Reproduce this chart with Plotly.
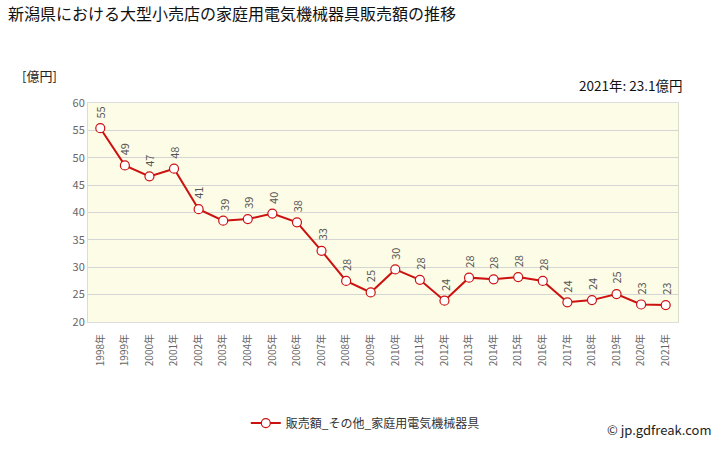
import plotly.graph_objects as go

years = [str(y) + "年" for y in range(1998, 2022)]
values = [55.4, 48.6, 46.6, 48.0, 40.6, 38.5, 38.8, 39.8, 38.2, 33.0, 27.5, 25.4,
          29.6, 27.7, 23.9, 28.1, 27.8, 28.2, 27.5, 23.6, 24.0, 25.1, 23.2, 23.1]
labels = [str(int(v + 0.5)) for v in values]
series_name = "販売額_その他_家庭用電気機械器具"
title = "新潟県における大型小売店の家庭用電気機械器具販売額の推移"
unit = "[億円]"
latest = "2021年: 23.1億円"

RED = "#CC1111"
FONT = "Noto Sans CJK JP"

fig = go.Figure()
fig.add_trace(go.Scatter(
    x=years, y=values, mode="lines+markers", name=series_name,
    line=dict(color=RED, width=2),
    marker=dict(size=9, color="white", line=dict(color=RED, width=1.2)),
))

annotations = []
for x, v, t in zip(years, values, labels):
    annotations.append(dict(
        x=x, y=v, xref="x", yref="y", text=t, showarrow=False,
        textangle=-90, yanchor="bottom", xanchor="center", yshift=8,
        font=dict(family=FONT, size=11, color="#555555"),
    ))
annotations += [
    dict(text=title, xref="paper", yref="paper", x=-82 / 590, y=1 + 91 / 221,
         xanchor="left", yanchor="middle", showarrow=False,
         font=dict(family=FONT, size=16, color="#111111")),
    dict(text=unit, xref="paper", yref="paper", x=-68 / 590, y=1 + 28 / 221,
         xanchor="left", yanchor="middle", showarrow=False,
         font=dict(family=FONT, size=13, color="#222222")),
    dict(text=latest, xref="paper", yref="paper", x=1 + 6 / 590, y=1 + 18 / 221,
         xanchor="right", yanchor="middle", showarrow=False,
         font=dict(family=FONT, size=13.5, color="#111111")),
    dict(text="© jp.gdfreak.com", xref="paper", yref="paper", x=1 + 36 / 590, y=-108 / 221,
         xanchor="right", yanchor="middle", showarrow=False,
         font=dict(family=FONT, size=13, color="#222222")),
]

fig.update_layout(
    width=728, height=450,
    margin=dict(l=88, r=50, t=103, b=126),
    paper_bgcolor="white", plot_bgcolor="#FDFCE6",
    font=dict(family=FONT, size=11, color="#666666"),
    showlegend=True,
    legend=dict(orientation="h", x=0.47, xanchor="center", y=-102 / 221, yanchor="middle",
                font=dict(family=FONT, size=12, color="#333333"),
                bgcolor="rgba(0,0,0,0)"),
    annotations=annotations,
    xaxis=dict(type="category", tickangle=-90, showgrid=False,
               ticks="outside", ticklen=7, tickcolor="rgba(0,0,0,0)",
               tickfont=dict(family=FONT, size=10, color="#666666"),
               showline=True, linecolor="#DDDDDD", linewidth=1, mirror=True,
               range=[-0.5, len(years) - 0.5]),
    yaxis=dict(range=[20, 60], dtick=5, showgrid=True, gridcolor="#D5D5D5", gridwidth=1,
               tickfont=dict(family=FONT, size=11, color="#666666"),
               showline=True, linecolor="#DDDDCC", linewidth=1, mirror=True,
               zeroline=False, ticks="", ticklen=0),
)

fig.write_html("out.html")
